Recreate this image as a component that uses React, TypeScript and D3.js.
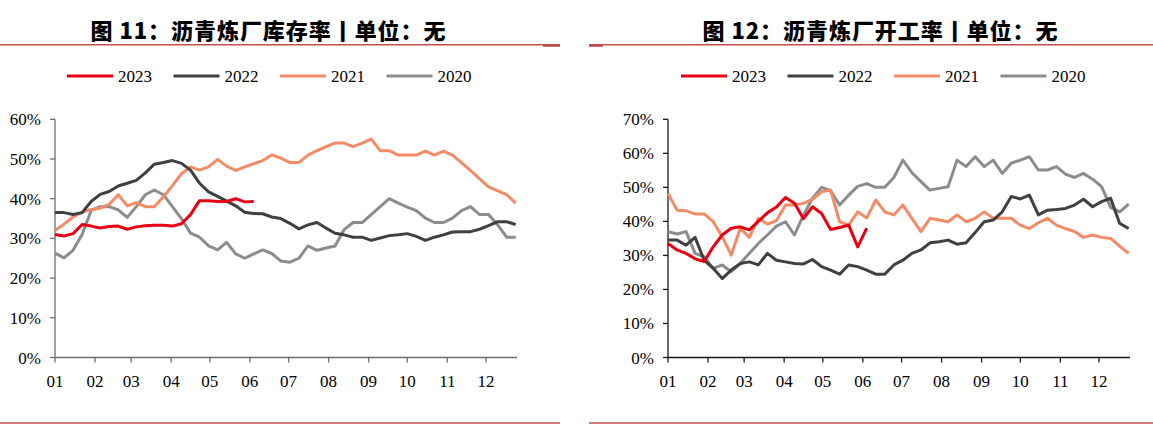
import React from 'react';
import * as d3 from 'd3';

const monthLabels = ['01', '02', '03', '04', '05', '06', '07', '08', '09', '10', '11', '12'];
const monthStartDays = [0, 31, 59, 90, 120, 151, 181, 212, 243, 273, 304, 334];
const seriesNames = ['2023', '2022', '2021', '2020'];
const seriesColors = ['#E60012', '#404040', '#F28B66', '#8C8C8C'];

// 图11 沥青炼厂库存率 (weekly, %)
const inv2023 = [31, 30.6, 31.2, 33.5, 33.1, 32.6, 33, 33.1, 32.3, 32.9, 33.2, 33.3, 33.3, 33.1, 33.7, 36, 39.5, 39.5, 39.3, 39.3, 40, 39.2, 39.3];
const inv2022 = [36.5, 36.5, 36, 36.5, 39.3, 41.1, 41.8, 43.2, 43.9, 44.6, 46.5, 48.7, 49.1, 49.6, 48.9, 47.2, 43.9, 41.7, 40.6, 39.4, 38.2, 36.6, 36.3, 36.2, 35.4, 35, 33.8, 32.4, 33.4, 34, 32.6, 31.3, 30.9, 30.3, 30.3, 29.5, 30.1, 30.7, 30.9, 31.2, 30.5, 29.5, 30.3, 30.9, 31.6, 31.7, 31.7, 32.3, 33.2, 34.2, 34.2, 33.5];
const inv2021 = [32, 33.6, 35.4, 36.6, 37.3, 37.6, 38.6, 41, 38.2, 39, 38, 38, 40.5, 43.3, 46.3, 48, 47.2, 48, 49.9, 48.2, 47.1, 48, 48.8, 49.6, 51, 50.2, 49.1, 49.1, 51, 52.1, 53.1, 54, 54, 53.1, 54, 55, 52.1, 52.1, 51, 51, 51, 52, 51, 52, 51, 49.1, 47.1, 45, 43, 42, 41, 38.9];
const inv2020 = [26.3, 25.1, 27, 31, 37, 38, 38, 37.2, 35.3, 38, 41, 42.2, 41, 38, 35, 31.3, 30.3, 28.1, 27.1, 29, 26.1, 25, 26.1, 27.1, 26.2, 24.3, 24, 25, 28.1, 27, 27.6, 28.1, 32.2, 34, 34, 36, 38, 40, 38.9, 37.9, 37, 35.1, 34, 34, 35.1, 37, 38, 36, 36, 33.4, 30.3, 30.3];

// 图12 沥青炼厂开工率 (weekly, %)
const op2023 = [33.5, 31.6, 30.6, 29, 28.2, 32.5, 36, 38, 38.4, 37.5, 40, 42.5, 44.2, 47, 45.3, 40.8, 44.3, 42.3, 37.6, 38.2, 38.9, 32.5, 38];
const op2022 = [34.5, 34.5, 33, 35.3, 28.6, 26.2, 23.2, 25.7, 27.6, 28.1, 27.2, 30.6, 28.6, 28.1, 27.6, 27.5, 28.8, 26.7, 25.7, 24.5, 27.2, 26.7, 25.7, 24.5, 24.5, 27.2, 28.6, 30.6, 31.6, 33.7, 34, 34.5, 33.3, 33.7, 36.7, 39.9, 40.4, 42.8, 47.3, 46.6, 47.7, 41.9, 43.3, 43.5, 43.8, 44.8, 46.5, 44.3, 45.8, 46.8, 39.4, 37.9];
const op2021 = [48.2, 43.3, 43.1, 42.2, 42.2, 39.9, 35.5, 30.1, 38, 35.3, 40.9, 39.2, 40.2, 44.8, 44.8, 45.3, 46.5, 48.7, 49.2, 39.9, 38.9, 42.8, 41, 46.3, 42.8, 41.9, 44.8, 40.9, 37, 40.9, 40.4, 39.9, 41.9, 39.9, 40.9, 42.8, 40.9, 40.9, 40.9, 38.9, 37.9, 39.6, 40.9, 38.9, 37.9, 37, 35.3, 36, 35.3, 35, 32.7, 30.6];
const op2020 = [37, 36.3, 37, 30.6, 29.6, 26.2, 27.2, 25.2, 27.6, 30.6, 33.5, 36, 38.6, 39.9, 36, 41.9, 46.8, 50, 49, 44.8, 47.7, 50.3, 51.1, 50, 50, 52.9, 58, 54.3, 51.7, 49.2, 49.7, 50.2, 58, 56.1, 59, 56.1, 58, 54.1, 57.1, 58, 59, 55.1, 55.1, 56.1, 53.9, 52.9, 54.1, 52.4, 50.2, 44.1, 42.8, 45.1];

const invYTicks = [0, 10, 20, 30, 40, 50, 60];
const opYTicks = [0, 10, 20, 30, 40, 50, 60, 70];

const SERIF = '"Liberation Serif", "Times New Roman", serif';
const CJK = '"Noto Sans CJK SC", sans-serif';

type ChartProps = {
  title: string;
  titleCx: number;
  x0: number;
  x1: number;
  yTicks: number[];
  axisColor: string;
  data: number[][];
  legendX: number;
};

function Chart({ title, titleCx, x0, x1, yTicks, axisColor, data, legendX }: ChartProps) {
  const yTop = 119.3;
  const yBottom = 357.5;
  const x = d3.scaleLinear().domain([0, 358]).range([x0, x1]);
  const y = d3.scaleLinear().domain([0, yTicks[yTicks.length - 1]]).range([yBottom, yTop]);
  const line = d3
    .line<number>()
    .x((_, i) => x(i * 7))
    .y((d) => y(d));
  const drawOrder = [3, 2, 1, 0];
  return (
    <g>
      <text
        x={titleCx}
        y={38.5}
        textAnchor="middle"
        fontFamily={CJK}
        fontWeight={900}
        fontSize={22}
        textLength={355}
        lengthAdjust="spacing"
        fill="#000"
      >
        {title}
      </text>
      {/* legend */}
      {seriesNames.map((name, i) => (
        <g key={name} transform={`translate(${legendX + i * 106.5},0)`}>
          <line x1={0} x2={46} y1={76} y2={76} stroke={seriesColors[i]} strokeWidth={3} />
          <text x={51} y={82} fontFamily={SERIF} fontSize={17} fill="#000">
            {name}
          </text>
        </g>
      ))}
      {/* y axis */}
      <line x1={x0} x2={x0} y1={yTop} y2={yBottom} stroke={axisColor} strokeWidth={1.3} />
      {yTicks.map((t) => (
        <g key={t}>
          <line x1={x0 - 5} x2={x0} y1={y(t)} y2={y(t)} stroke={axisColor} strokeWidth={1.3} />
          <text
            x={x0 - 14}
            y={y(t) + 6}
            textAnchor="end"
            fontFamily={SERIF}
            fontSize={17}
            fill="#000"
          >
            {t}%
          </text>
        </g>
      ))}
      {/* series */}
      {drawOrder.map((k) => (
        <path
          key={k}
          d={line(data[k]) || ''}
          fill="none"
          stroke={seriesColors[k]}
          strokeWidth={3}
          strokeLinejoin="round"
        />
      ))}
      {/* x axis */}
      <line x1={x0} x2={x1} y1={yBottom} y2={yBottom} stroke={axisColor} strokeWidth={1.3} />
      {monthStartDays.map((d, i) => (
        <g key={d}>
          <line x1={x(d)} x2={x(d)} y1={yBottom} y2={yBottom + 5} stroke={axisColor} strokeWidth={1.3} />
          <text
            x={x(d)}
            y={387}
            textAnchor="middle"
            fontFamily={SERIF}
            fontSize={17}
            fill="#000"
          >
            {monthLabels[i]}
          </text>
        </g>
      ))}
    </g>
  );
}

export default function App() {
  const rule = '#C0504D';
  return (
    <svg
      width={1153}
      height={424}
      style={{ position: 'absolute', left: 0, top: 0, background: '#fff' }}
    >
      <rect x={0} y={0} width={1153} height={424} fill="#fff" />
      {/* top rules */}
      <line x1={0} x2={560} y1={44.8} y2={44.8} stroke={rule} strokeWidth={1.6} />
      <rect x={543} y={44} width={17} height={2.8} fill={rule} />
      <line x1={589} x2={1153} y1={44.8} y2={44.8} stroke={rule} strokeWidth={1.6} />
      <rect x={589} y={44} width={14} height={2.8} fill={rule} />
      {/* bottom rules */}
      <line x1={0} x2={560} y1={423} y2={423} stroke={rule} strokeWidth={1.4} />
      <line x1={589} x2={1153} y1={423} y2={423} stroke={rule} strokeWidth={1.4} />
      <Chart
        title="图 11：沥青炼厂库存率丨单位：无"
        titleCx={268}
        x0={55}
        x1={517}
        yTicks={invYTicks}
        axisColor="#6E6E6E"
        data={[inv2023, inv2022, inv2021, inv2020]}
        legendX={67}
      />
      <Chart
        title="图 12：沥青炼厂开工率丨单位：无"
        titleCx={880}
        x0={668}
        x1={1130}
        yTicks={opYTicks}
        axisColor="#1A1A1A"
        data={[op2023, op2022, op2021, op2020]}
        legendX={681}
      />
    </svg>
  );
}
